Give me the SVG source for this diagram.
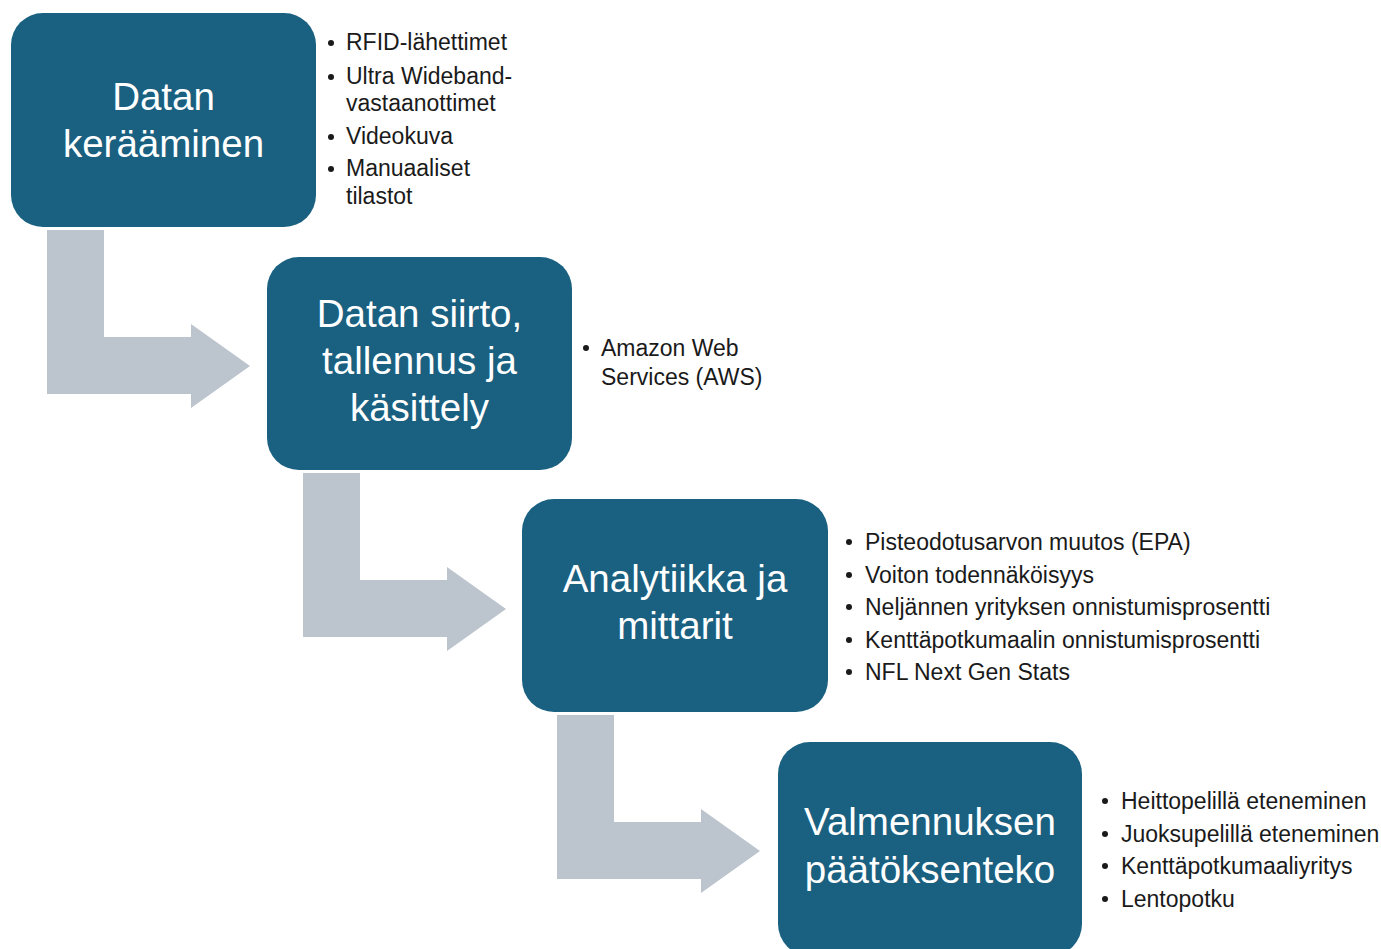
<svg xmlns="http://www.w3.org/2000/svg" width="1381" height="949" viewBox="0 0 1381 949">
<style>
.box{fill:#1a6080}
.arr{fill:#bcc4cd}
.t{font-family:"Liberation Sans",Arial,sans-serif;font-size:38.5px;fill:#ffffff;text-anchor:middle}
.b{font-family:"Liberation Sans",Arial,sans-serif;font-size:23px;fill:#1a1a1a}
.d{fill:#1a1a1a}
</style>
<defs>
<path id="bent" d="M0,0 H57 V107 H144 V94 L203,136 L144,178 V164 H0 Z"/>
</defs>
<rect width="1381" height="949" fill="#ffffff"/>
<g id="connectors">
<use href="#bent" class="arr" transform="translate(47,230)"/>
<use href="#bent" class="arr" transform="translate(303,473)"/>
<use href="#bent" class="arr" transform="translate(557,715)"/>
</g>
<g id="node1">
<rect class="box" x="11" y="13" width="305" height="214" rx="32"/>
<text class="t" x="163.5" y="110">Datan</text>
<text class="t" x="163.5" y="157">kerääminen</text>
<circle class="d" cx="331" cy="43" r="3"/>
<text class="b" x="346" y="50">RFID-lähettimet</text>
<circle class="d" cx="331" cy="77" r="3"/>
<text class="b" x="346" y="84">Ultra Wideband-</text>
<text class="b" x="346" y="111">vastaanottimet</text>
<circle class="d" cx="331" cy="137" r="3"/>
<text class="b" x="346" y="144">Videokuva</text>
<circle class="d" cx="331" cy="169" r="3"/>
<text class="b" x="346" y="176">Manuaaliset</text>
<text class="b" x="346" y="204">tilastot</text>
</g>
<g id="node2">
<rect class="box" x="267" y="257" width="305" height="213" rx="32"/>
<text class="t" x="419.5" y="327">Datan siirto,</text>
<text class="t" x="419.5" y="374">tallennus ja</text>
<text class="t" x="419.5" y="421">käsittely</text>
<circle class="d" cx="586" cy="348" r="3"/>
<text class="b" x="601" y="356">Amazon Web</text>
<text class="b" x="601" y="385">Services (AWS)</text>
</g>
<g id="node3">
<rect class="box" x="522" y="499" width="306" height="213" rx="32"/>
<text class="t" x="675" y="592">Analytiikka ja</text>
<text class="t" x="675" y="639">mittarit</text>
<circle class="d" cx="849" cy="542" r="3"/>
<text class="b" x="865" y="550">Pisteodotusarvon muutos (EPA)</text>
<circle class="d" cx="849" cy="575" r="3"/>
<text class="b" x="865" y="583">Voiton todennäköisyys</text>
<circle class="d" cx="849" cy="607" r="3"/>
<text class="b" x="865" y="615">Neljännen yrityksen onnistumisprosentti</text>
<circle class="d" cx="849" cy="640" r="3"/>
<text class="b" x="865" y="648">Kenttäpotkumaalin onnistumisprosentti</text>
<circle class="d" cx="849" cy="672" r="3"/>
<text class="b" x="865" y="680">NFL Next Gen Stats</text>
</g>
<g id="node4">
<rect class="box" x="778" y="742" width="304" height="214" rx="32"/>
<text class="t" x="930" y="835">Valmennuksen</text>
<text class="t" x="930" y="883">päätöksenteko</text>
<circle class="d" cx="1105" cy="801" r="3"/>
<text class="b" x="1121" y="809">Heittopelillä eteneminen</text>
<circle class="d" cx="1105" cy="834" r="3"/>
<text class="b" x="1121" y="842">Juoksupelillä eteneminen</text>
<circle class="d" cx="1105" cy="866" r="3"/>
<text class="b" x="1121" y="874">Kenttäpotkumaaliyritys</text>
<circle class="d" cx="1105" cy="899" r="3"/>
<text class="b" x="1121" y="907">Lentopotku</text>
</g>
</svg>
